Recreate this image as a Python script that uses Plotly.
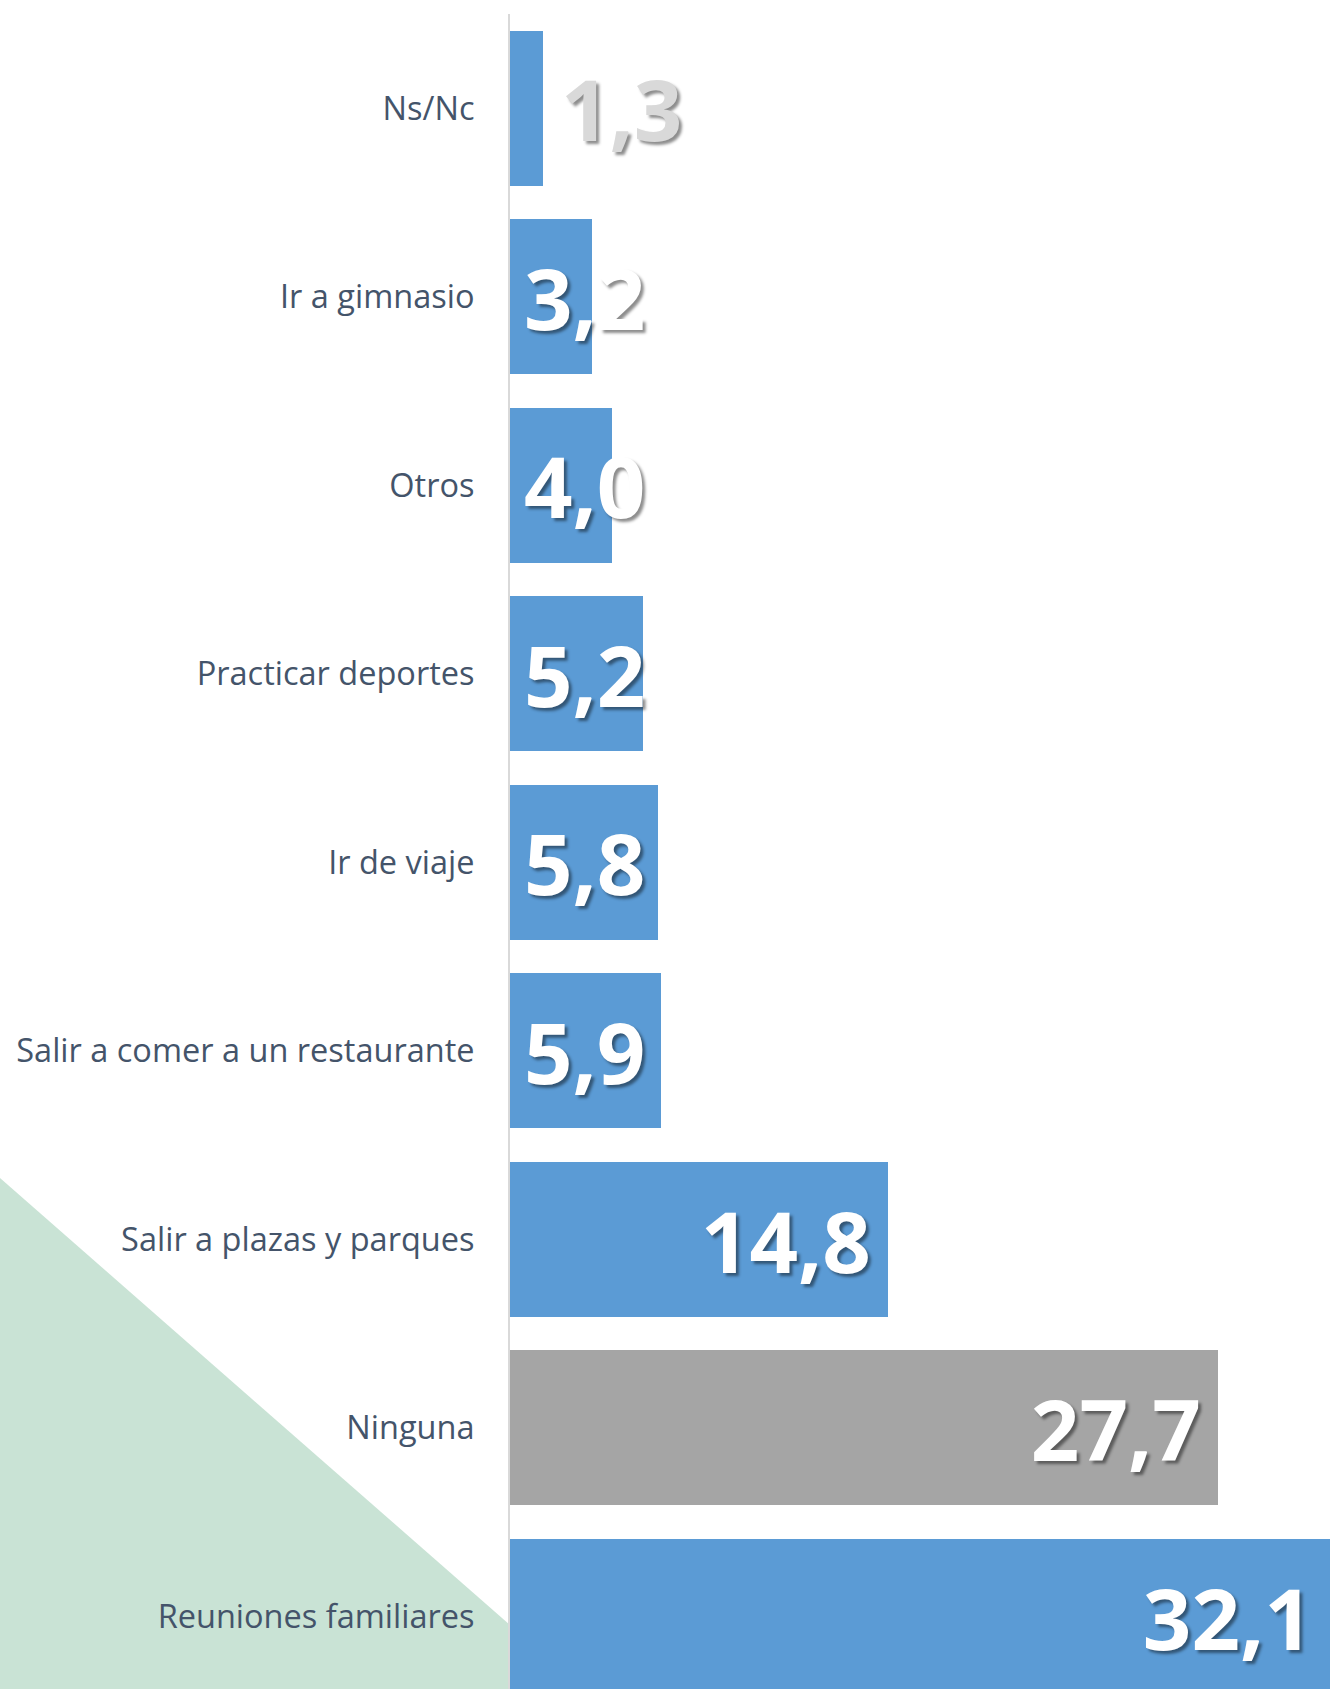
import plotly.graph_objects as go

categories = ["Ns/Nc", "Ir a gimnasio", "Otros", "Practicar deportes", "Ir de viaje",
              "Salir a comer a un restaurante", "Salir a plazas y parques", "Ninguna",
              "Reuniones familiares"]
values = [1.3, 3.2, 4.0, 5.2, 5.8, 5.9, 14.8, 27.7, 32.1]
value_labels = ["1,3", "3,2", "4,0", "5,2", "5,8", "5,9", "14,8", "27,7", "32,1"]
bar_colors = ["#5B9BD5"] * 7 + ["#A5A5A5", "#5B9BD5"]

W, H = 1330, 1689
L, T = 510, 14
px_per_unit = 25.55
band = 188.5

label_font = dict(family="Open Sans", size=85, weight="bold", color="white",
                  shadow="3px 3px 3px rgba(0,0,0,0.45)")

# big bars get their label from the bar trace itself (inside end)
inside_text = [t + "\u2009" if v >= 10 else "" for v, t in zip(values, value_labels)]

fig = go.Figure()
fig.add_trace(go.Bar(
    x=values, y=list(range(len(categories))), orientation="h",
    marker=dict(color=bar_colors, line=dict(width=0)),
    width=0.82, hoverinfo="skip",
    text=inside_text, textposition="inside", insidetextanchor="end",
    constraintext="none", textfont=label_font, cliponaxis=True,
))

for i, (v, t) in enumerate(zip(values, value_labels)):
    if i == 0:
        f = dict(label_font, color="#D9D9D9")
        fig.add_annotation(x=v, y=i, text=t, xanchor="left", xshift=16,
                           showarrow=False, font=f, yanchor="middle")
    elif v < 10:
        fig.add_annotation(x=0, y=i, text=t, xanchor="left", xshift=12,
                           showarrow=False, font=label_font, yanchor="middle")

plot_w = W - L
plot_h = H - T
n_units = plot_h / band

# background triangle
def px(xp):
    return (xp - L) / plot_w
def py(yp):
    return (H - yp) / plot_h

fig.add_shape(type="path", xref="paper", yref="paper", layer="below",
              path=f"M {px(0)},{py(1178)} L {px(583)},{py(1689)} L {px(0)},{py(1689)} Z",
              fillcolor="#C9E3D5", line=dict(width=0))

fig.update_layout(
    width=W, height=H,
    margin=dict(l=L, r=0, t=T, b=0),
    paper_bgcolor="white", plot_bgcolor="rgba(0,0,0,0)",
    showlegend=False,
    bargap=0,
    xaxis=dict(range=[0, plot_w / px_per_unit], visible=False, fixedrange=True),
    yaxis=dict(range=[-0.5 + n_units, -0.5], tickmode="array",
               tickvals=list(range(len(categories))), ticktext=categories,
               ticks="outside", ticklen=27, tickcolor="rgba(0,0,0,0)",
               tickfont=dict(family="Open Sans", size=32.5, color="#44546A"),
               showline=True, linecolor="#D9D9D9", linewidth=2,
               showgrid=False, zeroline=False, fixedrange=True),
)

fig.write_html("out.html", config={"displayModeBar": False},
               post_script="document.body.style.margin='0';document.body.style.overflow='hidden';")
